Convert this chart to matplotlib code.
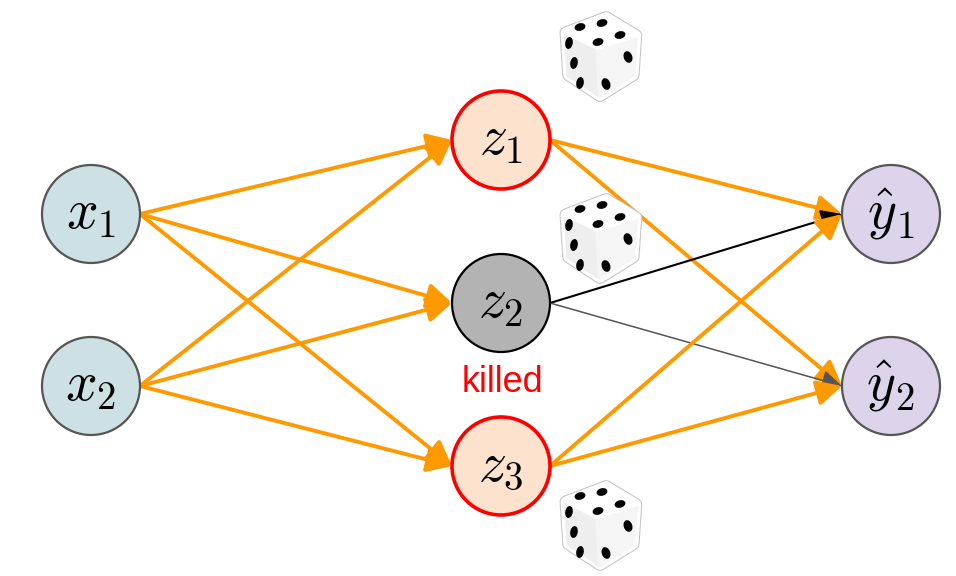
import matplotlib.pyplot as plt
from matplotlib.patches import Circle, Polygon, Ellipse, FancyArrowPatch

# labels of each layer
input_labels = [r'$x_1$', r'$x_2$']
hidden_labels = [r'$z_1$', r'$z_2$', r'$z_3$']
output_labels = [r'$\hat{y}_1$', r'$\hat{y}_2$']
hidden_kept = [True, False, True]
killed_text = 'killed'

plt.rcParams['mathtext.fontset'] = 'cm'

# layout (pixel space)
layer_x = [91, 501, 891]
rows_2 = [214, 386]
rows_3 = [140, 303, 466]
R = 49
ORANGE = '#ff9900'


def draw_die(ax, cx, cy):
    k = 0.9
    outline = [(-38, -27), (7, -44), (40, -24), (37, 20), (0, 43), (-35, 20)]
    top = [(-38, -27), (7, -44), (40, -24), (-3, -10)]
    left = [(-38, -27), (-3, -10), (0, 43), (-35, 20)]
    right = [(-3, -10), (40, -24), (37, 20), (0, 43)]
    sc = lambda pts: [(cx + k * a, cy + k * b) for a, b in pts]
    ax.add_patch(Polygon(sc(outline), closed=True, fc='white', ec='#c4c4c4',
                         lw=9, joinstyle='round', zorder=4))
    ax.add_patch(Polygon(sc(outline), closed=True, fc='white', ec='white',
                         lw=7.5, joinstyle='round', zorder=4.1))
    for pts, fc in [(left, '#eeeeee'), (right, '#f5f5f5'), (top, '#ffffff')]:
        ax.add_patch(Polygon(sc(pts), closed=True, fc=fc, ec=fc, lw=3,
                             joinstyle='round', zorder=5))
    pips = [((-20, -30), 11, 7.5, -15), ((2, -34), 11, 7.5, -15), ((20, -22), 11, 7.5, -15),
            ((-2, -15), 11, 7.5, -15),
            ((-31, -14), 7.5, 12, 10), ((-26, 6), 7.5, 12, 10), ((-20, 26), 7.5, 12, 10),
            ((28, 0), 8.5, 12, -20), ((6, 27), 8.5, 12, -20)]
    for (a, b), w, h, ang in pips:
        ax.add_patch(Ellipse((cx + a, cy + b), w, h, angle=ang, fc='black', ec='none', zorder=6))


def arrow(ax, p0, p1, color, lw, scale):
    ax.add_patch(FancyArrowPatch(p0, p1, arrowstyle='-|>,head_length=0.75,head_width=0.38',
                                 mutation_scale=scale, color=color, lw=lw,
                                 shrinkA=0, shrinkB=0, zorder=2))


fig = plt.figure(figsize=(9.56, 5.76), dpi=100)
ax = fig.add_axes([0, 0, 1, 1])
ax.set_xlim(0, 956)
ax.set_ylim(576, 0)
ax.axis('off')

in_pos = [(layer_x[0], y) for y in rows_2]
hid_pos = [(layer_x[1], y) for y in rows_3]
out_pos = [(layer_x[2], y) for y in rows_2]

# input -> hidden
for (xa, ya) in in_pos:
    for (xb, yb) in hid_pos:
        arrow(ax, (xa + R, ya), (xb - R, yb), ORANGE, 2.8, 20)

# hidden -> output
for kept, (xa, ya) in zip(hidden_kept, hid_pos):
    for j, (xb, yb) in enumerate(out_pos):
        if kept:
            arrow(ax, (xa + R, ya), (xb - R, yb), ORANGE, 2.8, 20)
        else:
            col = 'black' if j == 0 else '#555555'
            arrow(ax, (xa + R, ya), (xb - R, yb), col, 1.5 if j == 0 else 1.1, 17)

# nodes
for lab, (x, y) in zip(input_labels, in_pos):
    ax.add_patch(Circle((x, y), R, fc='#cde0e3', ec='#555555', lw=1.6, zorder=3))
    ax.text(x, y, lab, fontsize=40, ha='center', va='center', zorder=4)
for lab, kept, (x, y) in zip(hidden_labels, hidden_kept, hid_pos):
    if kept:
        ax.add_patch(Circle((x, y), R, fc='#fde3cd', ec='#ff0000', lw=2.6, zorder=3))
    else:
        ax.add_patch(Circle((x, y), R, fc='#b3b3b3', ec='black', lw=1.6, zorder=3))
    ax.text(x, y, lab, fontsize=40, ha='center', va='center', zorder=4)
for lab, (x, y) in zip(output_labels, out_pos):
    ax.add_patch(Circle((x, y), R, fc='#ddd3ea', ec='#555555', lw=1.6, zorder=3))
    ax.text(x, y, lab, fontsize=40, ha='center', va='center', zorder=4)

ax.text(hid_pos[1][0] + 1, 382, killed_text, fontsize=26, color='red',
        family='Liberation Sans', ha='center', va='center')

# dice
for (x, y), dy in zip(hid_pos, [-83, -64, 60]):
    draw_die(ax, x + 99, y + dy)

fig.savefig('out.png', dpi=100)
